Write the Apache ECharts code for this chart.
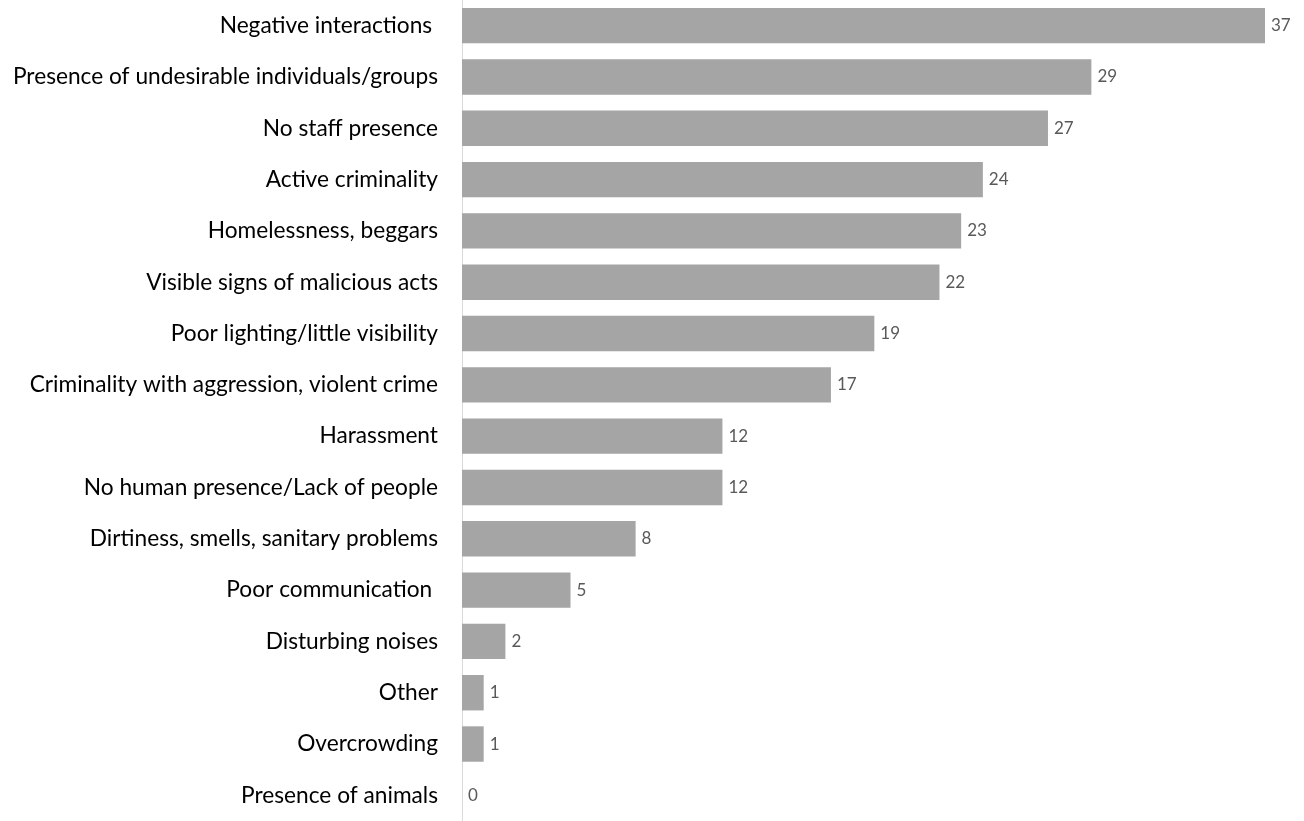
<!DOCTYPE html>
<html>
<head>
<meta charset="utf-8">
<script src="https://cdn.jsdelivr.net/npm/echarts@6/dist/echarts.min.js"></script>
<style>
  html, body { margin: 0; padding: 0; background: #fff; }
  #chart { width: 1304px; height: 821px; }
</style>
</head>
<body>
<div id="chart"></div>
<script>
// Reported safety concerns, counted per category
const categories = [
  'Negative interactions ',
  'Presence of undesirable individuals/groups',
  'No staff presence',
  'Active criminality',
  'Homelessness, beggars',
  'Visible signs of malicious acts',
  'Poor lighting/little visibility',
  'Criminality with aggression, violent crime',
  'Harassment',
  'No human presence/Lack of people',
  'Dirtiness, smells, sanitary problems',
  'Poor communication ',
  'Disturbing noises',
  'Other',
  'Overcrowding',
  'Presence of animals'
];
const counts = [37, 29, 27, 24, 23, 22, 19, 17, 12, 12, 8, 5, 2, 1, 1, 0];

const chart = echarts.init(document.getElementById('chart'), null, { renderer: 'canvas' });
chart.setOption({
  animation: false,
  backgroundColor: '#ffffff',
  grid: { left: 462, width: 803, top: -2, height: 837, containLabel: false },
  xAxis: {
    type: 'value',
    min: 0,
    max: 'dataMax',
    show: false,
    splitLine: { show: false }
  },
  yAxis: {
    type: 'category',
    data: categories,
    inverse: true,
    axisTick: { show: false },
    axisLine: { show: true, lineStyle: { color: '#d9d9d9', width: 1 } },
    axisLabel: {
      margin: 24,
      fontFamily: 'Lato',
      fontSize: 22.7,
      color: '#000000'
    }
  },
  series: [{
    type: 'bar',
    data: counts,
    barCategoryGap: '31%',
    itemStyle: { color: '#a5a5a5' },
    label: {
      show: true,
      position: 'right',
      distance: 6,
      fontFamily: 'Lato',
      fontSize: 17,
      color: '#595959'
    }
  }]
});
</script>
</body>
</html>
